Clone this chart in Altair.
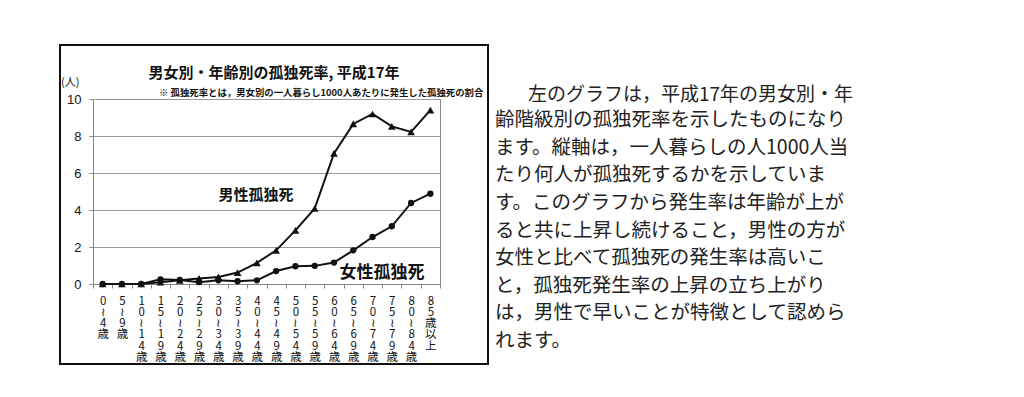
import altair as alt
import pandas as pd

categories = ["0～4歳", "5～9歳", "10～14歳", "15～19歳", "20～24歳", "25～29歳",
              "30～34歳", "35～39歳", "40～44歳", "45～49歳", "50～54歳", "55～59歳",
              "60～64歳", "65～69歳", "70～74歳", "75～79歳", "80～84歳", "85歳以上"]
male = [0.0, 0.0, 0.0, 0.1, 0.2, 0.3, 0.38, 0.62, 1.14, 1.82, 2.9, 4.08,
        7.06, 8.65, 9.19, 8.52, 8.22, 9.4]
female = [0.0, 0.0, 0.0, 0.25, 0.22, 0.1, 0.2, 0.15, 0.2, 0.7, 0.96, 0.98,
          1.16, 1.82, 2.54, 3.12, 4.38, 4.88]
series_names = ["男性孤独死", "女性孤独死"]
y_ticks = [0, 2, 4, 6, 8, 10]

title_text = "男女別・年齢別の孤独死率, 平成17年"
note_text = "※  孤独死率とは，男女別の一人暮らし1000人あたりに発生した孤独死の割合"
unit_text = "(人)"
para_first = "左のグラフは，平成17年の男女別・年"
para_rest = [
    "齢階級別の孤独死率を示したものになり",
    "ます。縦軸は，一人暮らしの人1000人当",
    "たり何人が孤独死するかを示していま",
    "す。このグラフから発生率は年齢が上が",
    "ると共に上昇し続けること，男性の方が",
    "女性と比べて孤独死の発生率は高いこ",
    "と，孤独死発生率の上昇の立ち上がり",
    "は，男性で早いことが特徴として認めら",
    "れます。",
]

rows = []
for c, m, f in zip(categories, male, female):
    rows.append({"age": c, "series": series_names[0], "rate": m})
    rows.append({"age": c, "series": series_names[1], "rate": f})
df = pd.DataFrame(rows)

JP = "Noto Sans CJK JP"

x_enc = alt.X("age:N", sort=categories, scale=alt.Scale(paddingInner=0, paddingOuter=0),
              axis=alt.Axis(title=None, labelAngle=0, labelExpr="split(replace(datum.label, '～', '≀'), '')",
                            labelFont=JP, labelFontSize=11.5, labelLineHeight=11.3,
                            labelColor="#111", labelBaseline="top", labelPadding=7,
                            tickBand="extent", tickSize=4, tickColor="#888",
                            domainColor="#888", labelOverlap=False))
y_enc = alt.Y("rate:Q", scale=alt.Scale(domain=[0, 10], nice=False),
              axis=alt.Axis(title=None, values=y_ticks, grid=True, gridColor="#999",
                            labelFont="Liberation Sans", labelFontSize=13, labelColor="#111",
                            labelPadding=8, tickSize=4, tickColor="#888", domainColor="#888",
                            labelOverlap=False))

base = alt.Chart(df)
lines = base.mark_line(color="#111", strokeWidth=2).encode(x=x_enc, y=y_enc, detail="series:N")
points = base.mark_point(filled=True, opacity=1, color="#111").encode(
    x=x_enc,
    y=y_enc,
    shape=alt.Shape("series:N", scale=alt.Scale(domain=series_names, range=["triangle-up", "circle"]), legend=None),
    size=alt.Size("series:N", scale=alt.Scale(domain=series_names, range=[60, 40]), legend=None),
)

ann = alt.Chart(pd.DataFrame({"a": [0]}))
box = ann.mark_rect(fill=None, stroke="#111", strokeWidth=2).encode(
    x=alt.value(-33), x2=alt.value(395), y=alt.value(-54), y2=alt.value(265))
title = ann.mark_text(font=JP, fontSize=15, fontWeight="bold", color="#111").encode(
    x=alt.value(181), y=alt.value(-26), text=alt.value(title_text))
note = ann.mark_text(font=JP, fontSize=9.4, fontWeight="bold", color="#111", align="left").encode(
    x=alt.value(66), y=alt.value(-6), text=alt.value(note_text))
unit = ann.mark_text(font=JP, fontSize=11, color="#111", align="left").encode(
    x=alt.value(-32), y=alt.value(-16), text=alt.value(unit_text))
lab_m = ann.mark_text(font=JP, fontSize=15, fontWeight="bold", color="#111").encode(
    x=alt.value(163), y=alt.value(96), text=alt.value(series_names[0]))
lab_f = ann.mark_text(font=JP, fontSize=17, fontWeight="bold", color="#111").encode(
    x=alt.value(289), y=alt.value(174), text=alt.value(series_names[1]))
p1 = ann.mark_text(font=JP, fontSize=19, color="#222", align="left", baseline="middle").encode(
    x=alt.value(435), y=alt.value(-4), text=alt.value(para_first))
p2 = ann.mark_text(font=JP, fontSize=19.5, color="#222", align="left", baseline="top",
                   lineHeight=27.6).encode(
    x=alt.value(402), y=alt.value(26 - 13.8), text=alt.value(para_rest))

chart = alt.layer(box, lines, points, title, note, unit, lab_m, lab_f, p1, p2).properties(
    width=347, height=185,
    autosize=alt.AutoSizeParams(type="none"),
    padding={"left": 85, "top": 91, "right": 570, "bottom": 100},
    background="white",
).configure_view(stroke="#888", strokeWidth=1)

chart.save("out.html", embed_options={"renderer": "svg", "actions": False})
